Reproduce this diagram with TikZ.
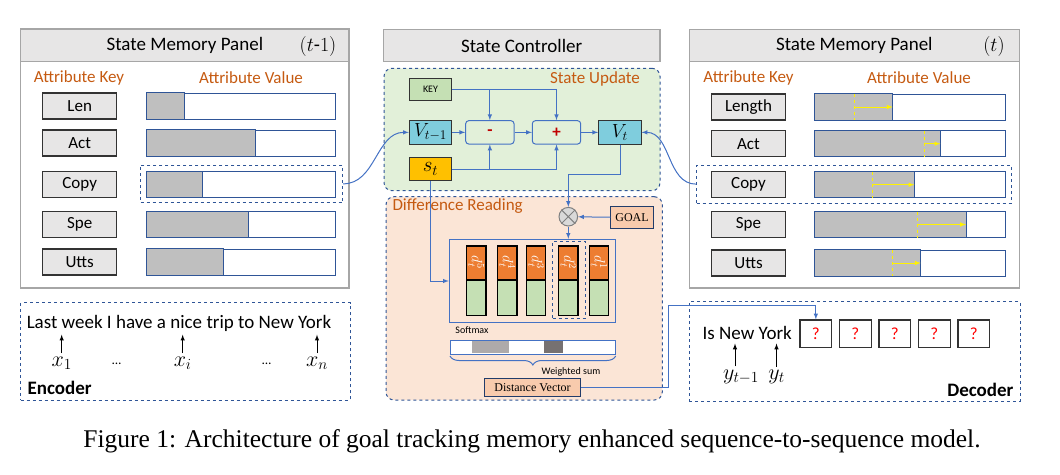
\RequirePackage{fix-cm}
\documentclass[tikz,border=0pt]{standalone}
\usepackage{fontspec}
\setmainfont{Carlito}
\newfontfamily\serifcap{Liberation Serif}
\usepackage{amsmath}
\usepackage{graphicx}
\usetikzlibrary{arrows,positioning,decorations.pathreplacing}

\definecolor{hdrfill}{HTML}{E7E6E6}
\definecolor{hdrline}{HTML}{A6A6A6}
\definecolor{attrorange}{HTML}{C55A11}
\definecolor{dashblue}{HTML}{2F5597}
\definecolor{connblue}{HTML}{4472C4}
\definecolor{barfill}{HTML}{BFBFBF}
\definecolor{updfill}{HTML}{E2F0D9}
\definecolor{readfill}{HTML}{FBE5D6}
\definecolor{keyfill}{HTML}{C5E0B4}
\definecolor{vfill}{HTML}{7FCDDD}
\definecolor{stfill}{HTML}{FFC000}
\definecolor{goalfill}{HTML}{F8CBAD}
\definecolor{dorange}{HTML}{ED7D31}
\definecolor{darkred}{HTML}{C00000}
\definecolor{softgray}{HTML}{AEAAAA}
\definecolor{hardgray}{HTML}{767171}
\definecolor{multgray}{HTML}{D9D9D9}

\newcommand{\txtsize}[1]{\fontsize{#1}{#1}\selectfont}

\begin{document}
\begin{tikzpicture}[x=1pt,y=-1pt,>=latex,
hdr/.style={draw=hdrline, fill=hdrfill, line width=1.2pt, inner sep=0pt, font=\txtsize{19}},
panel/.style={draw=hdrline, line width=1.2pt},
keybox/.style={draw=black!80, fill=hdrfill, line width=1.3pt, minimum width=74pt, minimum height=26pt, inner sep=0pt, font=\txtsize{17}},
valbar/.style={draw=dashblue, line width=1pt, fill=white, minimum height=26pt, inner sep=0pt},
barline/.style={draw=dashblue, fill=barfill, line width=1pt},
attrlabel/.style={text=attrorange, font=\txtsize{17}},
dashbox/.style={draw=dashblue, dashed, line width=1pt, inner sep=0pt},
roundbox/.style={draw=dashblue, dashed, line width=1pt, rounded corners=8pt, inner sep=0pt},
conn/.style={draw=connblue, line width=1pt},
smallbox/.style={draw=black!80, line width=1pt, minimum width=42.4pt, minimum height=23.3pt, inner sep=0pt, font=\txtsize{19}},
opbox/.style={draw=connblue, line width=1pt, rounded corners=3pt, minimum width=48.3pt, minimum height=23.3pt, inner sep=0pt, text=darkred, font=\txtsize{17}\bfseries},
dtop/.style={draw=black, line width=1.2pt, fill=dorange, minimum width=19.5pt, minimum height=33.3pt, inner sep=0pt, text=white, font=\txtsize{15}},
dbot/.style={draw=black, line width=1.2pt, fill=keyfill, minimum width=19.5pt, minimum height=35pt, inner sep=0pt},
yellowdash/.style={draw=yellow, dashed, line width=1pt},
yellowarrow/.style={draw=yellow, line width=1pt, ->},
blackarrow/.style={draw=black, line width=1pt, ->},
qbox/.style={draw=black!80, line width=1.2pt, minimum width=31.7pt, minimum height=27.3pt, inner sep=0pt, text=red, font=\txtsize{17}},
varlabel/.style={font=\txtsize{22}},
]
\useasboundingbox (0,0) rectangle (1060,474);

% State Memory Panel (t-1)
\draw[panel] (20.7,29) rectangle (349,288);
\node[hdr, minimum width=328.3pt, minimum height=32.7pt] (lhdr) at (184.85,45.35) {State Memory Panel};
\node[font=\txtsize{20}] (ltime) at (318,46) {$(t$-$1)$};
\node[attrlabel] (lkey) at (79,77.7) {Attribute Key};
\node[attrlabel] (lval) at (251,77.7) {Attribute Value};
\foreach \n/\y/\lab/\g in {1/106/Len/184.3, 2/143/Act/255.7, 3/184.5/Copy/202.3, 4/224.5/Spe/248.3, 5/262/Utts/223.3}{
  \node[keybox] (lk\n) at (79.7,\y) {\lab};
  \node[valbar, minimum width=188.3pt] (lv\n) at (240.85,\y) {};
  \draw[barline] (lv\n.north west) rectangle (\g,\y+13);
}
\node[dashbox, minimum width=202pt, minimum height=37.7pt] (lsel) at (241.7,183.85) {};

% State Memory Panel (t)
\draw[panel] (689.3,29.7) rectangle (1019.3,288);
\node[hdr, minimum width=330pt, minimum height=32pt] (rhdr) at (854.3,45.7) {State Memory Panel};
\node[font=\txtsize{20}] (rtime) at (994,46) {$(t)$};
\node[attrlabel] (rkey) at (748.5,77.7) {Attribute Key};
\node[attrlabel] (rval) at (919,77.7) {Attribute Value};
\foreach \n/\y/\lab/\g/\m in {1/107/Length/892.7/854, 2/143.7/Act/940.3/924.3, 3/184.7/Copy/914.3/872.3, 4/224.5/Spe/966/917.7, 5/263/Utts/920.7/892.7}{
  \node[keybox] (rk\n) at (748.5,\y) {\lab};
  \node[valbar, minimum width=189.7pt] (rv\n) at (910.15,\y) {};
  \draw[barline] (rv\n.north west) rectangle (\g,\y+13);
  \draw[yellowdash] (\m,\y-13) -- (\m,\y+13);
  \draw[yellowarrow] (\m,\y) -- (\g,\y);
}
\node[dashbox, minimum width=314.3pt, minimum height=38.3pt] (rsel) at (853.85,184.15) {};

% State Controller
\node[hdr, minimum width=276.7pt, minimum height=32.4pt] (chdr) at (521.65,45.5) {State Controller};
\node[roundbox, fill=updfill, minimum width=276pt, minimum height=122.4pt] (upd) at (522,129.5) {};
\node[attrlabel] (updlabel) at (595,78.5) {State Update};
\node[roundbox, fill=readfill, minimum width=276.3pt, minimum height=203.3pt] (rd) at (524.15,298.35) {};
\node[attrlabel, anchor=west] (rdlabel) at (389,206) {Difference Reading};

\node[smallbox, fill=keyfill, minimum height=22.4pt, font=\txtsize{10}] (key) at (430.5,89.5) {KEY};
\node[smallbox, fill=vfill] (vprev) at (430.5,132.35) {$V_{t-1}$};
\node[smallbox, fill=stfill, font=\txtsize{21}] (st) at (430.5,169) {$s_t$};
\node[opbox] (minus) at (489.85,132.35) {-};
\node[opbox] (plus) at (556.5,132.35) {+};
\node[smallbox, fill=vfill] (vt) at (619.85,132.35) {$V_t$};

\draw[conn,->] (vprev) -- (minus);
\draw[conn,->] (minus) -- (plus);
\draw[conn,->] (plus) -- (vt);
\draw[conn,->] (key.east) -| (minus.north);
\draw[conn,->] (key.east) -| (plus.north);
\draw[conn,->] (st.east) -| (minus.south);
\draw[conn,->] (st.east) -| (plus.south);

% Difference Reading
\node[smallbox, fill=goalfill, draw=dashblue!70!black, minimum height=21.6pt, font=\serifcap\txtsize{12}] (goal) at (632,217.5) {GOAL};
\node[circle, draw=gray, fill=multgray, line width=1pt, minimum size=18.6pt, inner sep=0pt] (mult) at (568.3,216.7) {};
\draw[gray, line width=1pt] (mult.north west) -- (mult.south east) (mult.north east) -- (mult.south west);
\node[draw=connblue, line width=1pt, minimum width=165.7pt, minimum height=83.4pt, inner sep=0pt] (att) at (532.15,281) {};
\foreach \n/\x in {5/476.2, 4/507.2, 3/536, 2/568.3, 1/598.85}{
  \node[dtop] (dt\n) at (\x,262.65) {\rotatebox{-90}{$d_t^{\n}$}};
  \node[dbot, below=0pt of dt\n] (db\n) {};
}
\node[dashbox, minimum width=32.3pt, minimum height=77.3pt] (dsel) at (568.85,279.65) {};
\node[font=\txtsize{10}] (softmax) at (472,330) {Softmax};
\node[draw=connblue, fill=white, line width=1pt, minimum width=165.7pt, minimum height=13.3pt, inner sep=0pt] (wbar) at (532.85,347.35) {};
\fill[softgray] (471.7,341.4) rectangle (509,353.3);
\fill[hardgray] (544,341.4) rectangle (562.7,353.3);
\draw[conn, decorate, decoration={brace, mirror, amplitude=9pt}] (450,356) -- (615.7,356);
\node[font=\txtsize{10}] (wsum) at (571,372) {Weighted sum};
\node[smallbox, fill=goalfill, draw=dashblue!70!black, minimum width=96.4pt, minimum height=17.7pt, font=\serifcap\txtsize{12}] (dv) at (532.5,387.15) {Distance Vector};

\coordinate (vtturn) at (620.7,174);
\draw[conn,->] (vt.south -| vtturn) -- (vtturn) -| (mult.north);
\draw[conn,->] (goal) -- (mult);
\draw[conn,->] (mult.south) -- (mult.south |- att.north);
\draw[conn,->] (st.south) |- (att.west);

% Memory links
\draw[conn,->] (lsel.east) to[out=0,in=180] (vprev.west);
\draw[conn,->] (rsel.west) to[out=180,in=0] (vt.east);

% Encoder
\node[dashbox, minimum width=329.3pt, minimum height=97.3pt] (enc) at (185.35,351.35) {};
\node[font=\txtsize{19}] (sent) at (179,323) {Last week I have a nice trip to New York};
\node[varlabel] (x1) at (61.7,363) {$x_1$};
\node[varlabel] (xi) at (182.7,363) {$x_i$};
\node[varlabel] (xn) at (317,363) {$x_n$};
\node[font=\txtsize{13}] (dots1) at (116.7,364) {\dots};
\node[font=\txtsize{13}] (dots2) at (266.7,364) {\dots};
\draw[blackarrow] (x1.north) -- (x1.north |- sent.south);
\draw[blackarrow] (xi.north) -- (xi.north |- sent.south);
\draw[blackarrow] (xn.north) -- (xn.north |- sent.south);
\node[font=\txtsize{19}\bfseries, anchor=west] (enclabel) at (24,388) {Encoder};

% Decoder
\node[dashbox, minimum width=330.7pt, minimum height=99.3pt] (dec) at (854.65,351.35) {};
\node[font=\txtsize{19}] (dsent) at (747.2,333.3) {Is New York};
\node[qbox] (q1) at (815.85,333.65) {?};
\node[qbox, right=6.6pt of q1] (q2) {?};
\node[qbox, right=6.6pt of q2] (q3) {?};
\node[qbox, right=6.6pt of q3] (q4) {?};
\node[qbox, right=6.6pt of q4] (q5) {?};
\node[varlabel] (yprev) at (741,377) {$y_{t-1}$};
\node[varlabel] (ycur) at (776.5,377) {$y_t$};
\draw[blackarrow] ([xshift=-6pt]yprev.north) -- ([xshift=-6pt]yprev.north |- dsent.south);
\draw[blackarrow] (ycur.north) -- (ycur.north |- dsent.south);
\node[font=\txtsize{19}\bfseries, anchor=east] (declabel) at (1017,390) {Decoder};

\coordinate (dvturn) at (668,305.7);
\draw[conn,->] (dv.east) -| (dvturn) -| (q1.north);

% Caption
\node[font=\serifcap\txtsize{25.5}] (caption) at (532,441) {Figure 1: Architecture of goal tracking memory enhanced sequence-to-sequence model.};
\end{tikzpicture}
\end{document}
